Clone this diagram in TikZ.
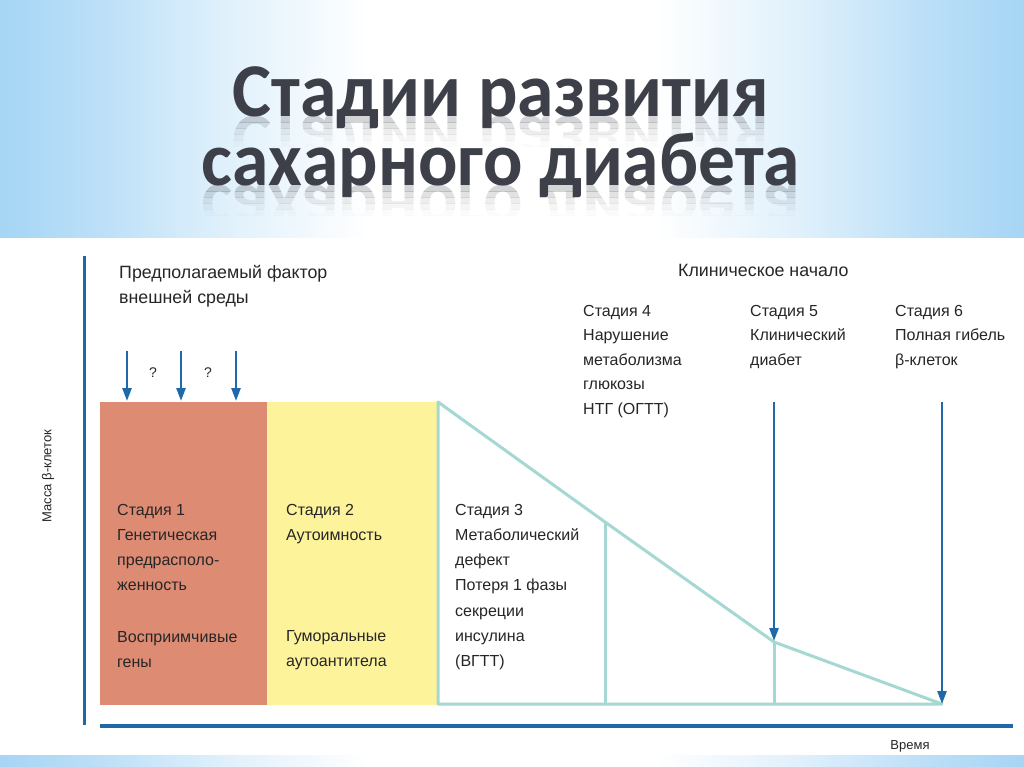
\documentclass[tikz,border=0pt]{standalone}
\usepackage{graphicx}
\usepackage{fontspec}
\setmainfont{Liberation Sans}
\newfontfamily\titlefam{Carlito}
\usetikzlibrary{arrows.meta}
\definecolor{axisblue}{HTML}{1F68A9}
\definecolor{tealline}{HTML}{A5D8D2}
\definecolor{stageone}{HTML}{DE8B73}
\definecolor{stagetwo}{HTML}{FDF39B}
\definecolor{skyblue}{HTML}{A6D5F5}
\definecolor{titlegray}{HTML}{3D4048}
\definecolor{txtdark}{HTML}{262626}
\pgfdeclarehorizontalshading{skyband}{100bp}{color(0bp)=(skyblue); color(25bp)=(skyblue); color(30bp)=(skyblue!75!white); color(36bp)=(skyblue!35!white); color(43bp)=(white); color(57bp)=(white); color(64bp)=(skyblue!35!white); color(70bp)=(skyblue!75!white); color(75bp)=(skyblue); color(100bp)=(skyblue)}
\newcommand\mirrortitle[5]{%
  \foreach \o/\p/\q in {0.22/0/6,0.15/6/12,0.09/12/18,0.05/18/24,0.02/24/30}{%
    \begin{scope}
      \clip (0,#2+\p) rectangle (1024,#2+\q);
      \begin{scope}[shift={(#1,#2)}]
        \node[titletext, anchor=base, yscale=-1, opacity=\o] (#5-\p) at (0,0) {\resizebox{#3}{\height}{#4}};
      \end{scope}
    \end{scope}}}
\begin{document}
\begin{tikzpicture}[x=1pt,y=-1pt,
  titletext/.style={font=\titlefam\bfseries\fontsize{76}{76}\selectfont, text=titlegray, inner sep=0pt},
  txtblock/.style={font=\fontsize{16}{25.2}\selectfont, text=txtdark, align=left, anchor=north west, inner sep=0pt},
  headtxt/.style={txtblock, font=\fontsize{17.8}{25}\selectfont},
  smalltxt/.style={font=\fontsize{13}{15}\selectfont, text=txtdark, inner sep=0pt},
  axisline/.style={draw=axisblue, line width=3.5pt},
  tealedge/.style={draw=tealline, line width=3pt, line join=round},
  factorarrow/.style={draw=axisblue, line width=2.5pt, -{Triangle[width=9pt,length=13pt]}},
  stagebox/.style={anchor=north west, inner sep=0pt, minimum width=#1, minimum height=303},
]
\useasboundingbox (0,0) rectangle (1024,767);
\fill[white] (0,0) rectangle (1024,767);
\shade[shading=skyband] (0,0) rectangle (1024,237);
\shade[shading=skyband] (0,755) rectangle (1024,767);

% title with reflection
\mirrortitle{501}{117}{536pt}{Стадии развития}{refa}
\mirrortitle{501}{186}{598pt}{сахарного диабета}{refb}
\node[titletext, anchor=base] (title1) at (501,117) {\resizebox{536pt}{\height}{Стадии развития}};
\node[titletext, anchor=base] (title2) at (501,186) {\resizebox{598pt}{\height}{сахарного диабета}};

% stage boxes
\node[stagebox=167, fill=stageone] (box1) at (100,402) {};
\node[stagebox=171, fill=stagetwo] (box2) at (267,402) {};

% stage 3 outline
\coordinate (c0) at (438,402);
\coordinate (c1) at (605,522);
\coordinate (c2) at (774,642);
\coordinate (c3) at (942,704);
\coordinate (b0) at (438,704);
\coordinate (b1) at (605,704);
\coordinate (b2) at (774,704);
\draw[tealedge] (c0) -- (c1) -- (c2) -- (c3) -- (b0) -- cycle;
\draw[tealedge] (c1) -- (b1);
\draw[tealedge] (c2) -- (b2);

% axes
\coordinate (ytop) at (84,256);
\coordinate (ybot) at (84,725);
\coordinate (xl) at (100,726);
\coordinate (xr) at (1013,726);
\draw[axisline, line width=3pt] (ytop) -- (ybot);
\draw[axisline, line width=4.5pt] (xl) -- (xr);

% environmental factor arrows
\coordinate (f1s) at (127,351); \coordinate (f1e) at (127,401);
\coordinate (f2s) at (181,351); \coordinate (f2e) at (181,401);
\coordinate (f3s) at (236,351); \coordinate (f3e) at (236,401);
\draw[factorarrow] (f1s) -- (f1e);
\draw[factorarrow] (f2s) -- (f2e);
\draw[factorarrow] (f3s) -- (f3e);
\node[smalltxt, font=\fontsize{14}{16}\selectfont] (q1) at (153,373) {?};
\node[smalltxt, font=\fontsize{14}{16}\selectfont] (q2) at (208,373) {?};

% stage 5 and 6 arrows
\coordinate (s5s) at (774,402); \coordinate (s5e) at (774,641);
\coordinate (s6s) at (942,402); \coordinate (s6e) at (942,704);
\draw[factorarrow] (s5s) -- (s5e);
\draw[factorarrow] (s6s) -- (s6e);

% texts
\node[headtxt] (env) at (119,265) {Предполагаемый фактор\\внешней среды};
\node[headtxt] (clin) at (678,264) {Клиническое начало};
\node[txtblock, font=\fontsize{16}{24.5}\selectfont] (st4) at (583,305) {Стадия 4\\Нарушение\\метаболизма\\глюкозы\\НТГ (ОГТТ)};
\node[txtblock, font=\fontsize{16}{24.5}\selectfont] (st5) at (750,305) {Стадия 5\\Клинический\\диабет};
\node[txtblock, font=\fontsize{16}{24.5}\selectfont] (st6) at (895,305) {Стадия 6\\Полная гибель\\β-клеток};
\node[txtblock] (st1) at (117,504) {Стадия 1\\Генетическая\\предрасполо-\\женность\\[26pt]Восприимчивые\\гены};
\node[txtblock] (st2) at (286,504) {Стадия 2\\Аутоимность\\[76pt]Гуморальные\\аутоантитела};
\node[txtblock] (st3) at (455,504) {Стадия 3\\Метаболический\\дефект\\Потеря 1 фазы\\секреции\\инсулина\\(ВГТТ)};

% axis labels
\node[smalltxt, rotate=90] (ylab) at (48,476) {Масса β-клеток};
\node[smalltxt] (xlab) at (910,746) {Время};
\end{tikzpicture}
\end{document}
